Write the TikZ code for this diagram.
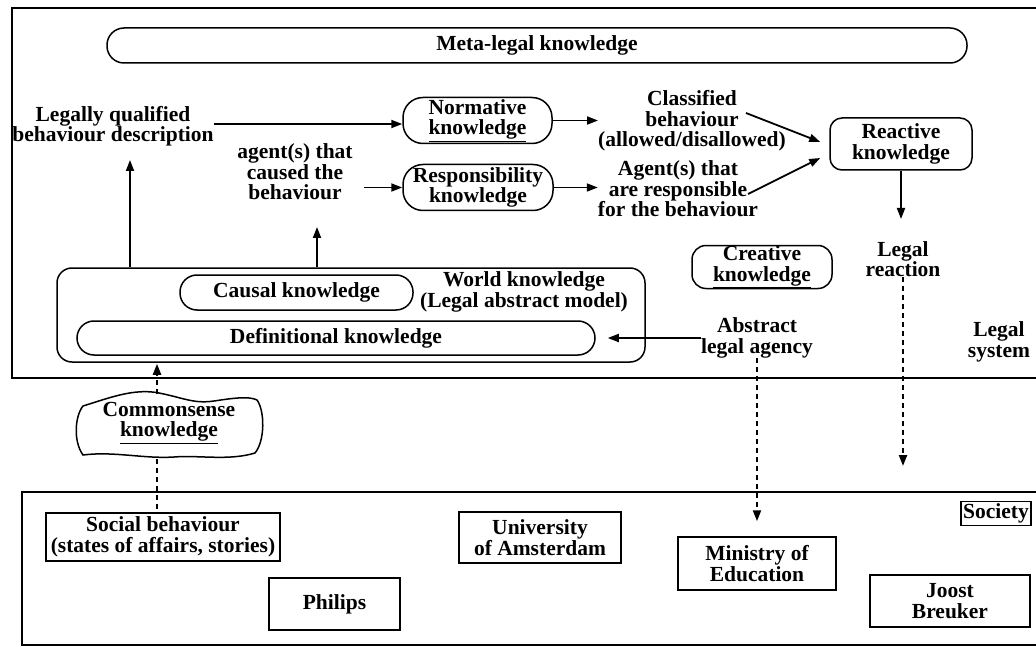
\documentclass[tikz,border=0pt]{standalone}
\usepackage{fontspec}
\setmainfont{Liberation Serif}
\usetikzlibrary{arrows.meta,calc}
\begin{document}
\begin{tikzpicture}[x=1pt,y=-1pt,
  every node/.style={font=\fontsize{21.5}{20.5}\selectfont\bfseries, align=center, inner sep=0pt},
  rbox/.style={draw, line width=1.5pt, rounded corners=#1},
  sqbox/.style={draw, line width=1.5pt},
  frame/.style={draw, line width=1.6pt},
  arr/.style={line width=1.8pt, -{Triangle[length=11pt,width=8pt]}},
  darr/.style={line width=2.2pt, dash pattern=on 5pt off 4pt, -{Triangle[length=11pt,width=8pt]}},
  dline/.style={line width=2.2pt, dash pattern=on 5pt off 4pt},
]
\useasboundingbox (0,0) rectangle (1036,647);
\clip (0,0) rectangle (1036,647);

% outer frames
\draw[frame] (12,8) rectangle (1060,378);
\draw[frame] (22,492) rectangle (1060,645);

% legal system part
\node[rbox=17, minimum width=860, minimum height=35] (meta) at (537,45.5) {Meta-legal knowledge};
\node (lq) at (113,126) {Legally qualified\\behaviour description};
\node[rbox=20, minimum width=149, minimum height=46] (norm) at (477.5,120.5) {Normative\\\underline{knowledge}};
\node (cb) at (692,121) {Classified\\behaviour\\(allowed/disallowed)};
\node[rbox=12, minimum width=142, minimum height=52] (react) at (901,144) {Reactive\\knowledge};
\node (act) at (295,172) {agent(s) that\\caused the\\behaviour};
\node[rbox=20, minimum width=150, minimum height=46] (resp) at (478,187.5) {Responsibility\\knowledge};
\node (ar) at (678,189) {Agent(s) that\\are responsible\\for the behaviour};
\node (lr) at (903,259) {Legal\\reaction};
\node (ls) at (999,342) {Legal\\system};
\node[rbox=15, minimum width=588, minimum height=94] (world) at (351,315) {};
\node (wk) at (524,292) {World knowledge\\(Legal abstract model)};
\node[rbox=17, minimum width=233, minimum height=35] (causal) at (296.5,292.5) {Causal knowledge};
\node[rbox=17, minimum width=518, minimum height=34] (def) at (336,338) {Definitional knowledge};
\node (ala) at (757,338) {Abstract\\legal agency};
\node[rbox=14, minimum width=140, minimum height=43] (creat) at (762,267) {Creative\\\underline{knowledge}};

% commonsense cloud
\node (cs) at (169,423) {Commonsense\\\underline{knowledge}};
\begin{scope}[shift={(169,426)}]
\draw[line width=1.5pt] (-86,-20) .. controls (-60,-28) and (-35,-38) .. (-10,-33)
  .. controls (15,-28) and (25,-22) .. (45,-25)
  .. controls (65,-28) and (80,-30) .. (88,-26)
  .. controls (96,-15) and (96,15) .. (86,27)
  .. controls (60,35) and (30,29) .. (5,31)
  .. controls (-25,33) and (-55,25) .. (-86,29)
  .. controls (-96,15) and (-94,-10) .. (-86,-20) -- cycle;
\end{scope}

% society part
\node[sqbox, minimum width=234, minimum height=48] (sb) at (163,537) {Social behaviour\\(states of affairs, stories)};
\node[sqbox, minimum width=131, minimum height=52] (ph) at (334.5,604) {Philips};
\node[sqbox, minimum width=162, minimum height=51] (ua) at (540,537.5) {University\\of Amsterdam};
\node[sqbox, minimum width=158, minimum height=53] (me) at (757,563.5) {Ministry of\\Education};
\node[sqbox, minimum width=160, minimum height=52] (jb) at (950,601) {Joost\\Breuker};
\node[sqbox, inner sep=2pt] (soc) at (996,513.5) {Society};

% connectors
\coordinate (c130) at (130,160);
\coordinate (c317) at (317,227);
\coordinate (cstop) at (157,394);
\coordinate (csbot) at (157,459);
\coordinate (a1s) at (746,113);
\coordinate (a2s) at (748,194);
\coordinate (lrend) at (903,466);

\draw[arr] (lq.east |- 0,124) -- (norm.west |- 0,124);
\draw[arr] (norm.east) -- (norm.east -| cb.west);
\draw[arr] (a1s) -- ($(react.west)+(-9,-2)$);
\draw[arr] (a2s) -- ($(react.west)+(-9,14)$);
\draw[arr] (react.south) -- (react.south |- 0,219);
\draw[arr] ($(resp.west)+(-38,0)$) -- (resp.west);
\draw[arr] (resp.east) -- (resp.east -| ar.west);
\draw[arr] (c130 |- world.north) -- (c130);
\draw[arr] (c317 |- world.north) -- (c317);
\draw[arr, shorten >=12pt] (ala.west) -- (ala.west -| def.east);
\draw[darr] (lr.south) -- (lrend);
\draw[darr, shorten >=15pt] (ala.south) -- (ala.south |- me.north);
\draw[darr, shorten >=1pt] (cstop) -- (cstop |- world.south);
\draw[dline] (csbot) -- (csbot |- sb.north);
\end{tikzpicture}
\end{document}
